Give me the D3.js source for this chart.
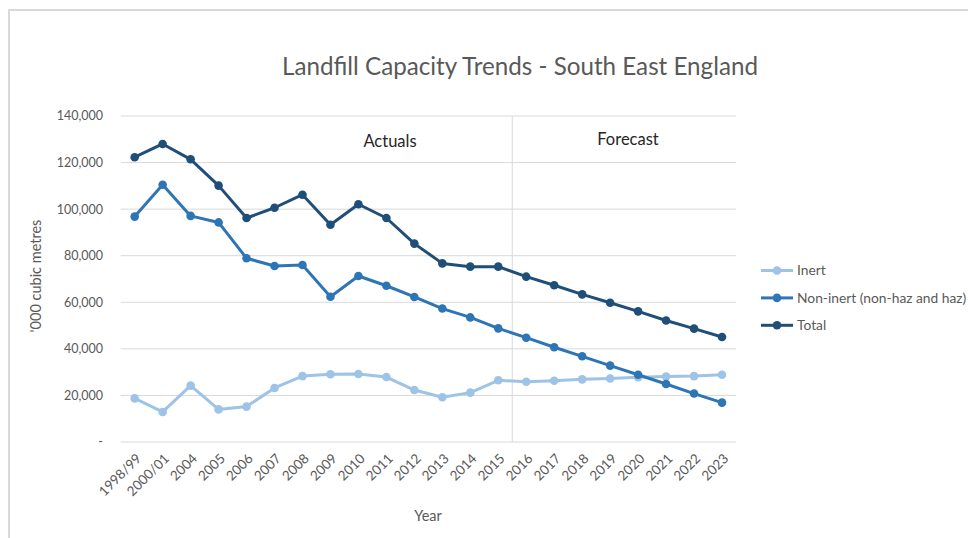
<!DOCTYPE html>
<html>
<head>
<meta charset="utf-8">
<script src="https://cdn.jsdelivr.net/npm/d3@7"></script>
<style>
  html, body { margin: 0; padding: 0; background: #fff; }
  svg { display: block; font-family: Lato, "Open Sans", sans-serif; }
</style>
</head>
<body>
<svg id="chart" width="968" height="538"></svg>
<script>
// Landfill capacity by year, '000 cubic metres
const years = ["1998/99", "2000/01", "2004", "2005", "2006", "2007", "2008", "2009", "2010", "2011", "2012",
  "2013", "2014", "2015", "2016", "2017", "2018", "2019", "2020", "2021", "2022", "2023"];
const inert = [18750, 12900, 24200, 14000, 15200, 23200, 28300, 29100, 29200, 27900, 22300,
  19200, 21200, 26500, 25900, 26300, 26900, 27300, 27800, 28100, 28300, 28900];
const nonInert = [96800, 110500, 97100, 94300, 78900, 75600, 76000, 62400, 71300, 67100, 62300,
  57300, 53500, 48800, 44800, 40700, 36800, 32800, 28900, 24900, 20800, 16900];
const total = [122300, 128000, 121400, 110100, 96200, 100600, 106200, 93300, 102100, 96200, 85200,
  76700, 75300, 75300, 71000, 67300, 63400, 59800, 56100, 52200, 48700, 45100];
const yTicks = [0, 20000, 40000, 60000, 80000, 100000, 120000, 140000];
const lastActual = "2015";
const firstForecast = "2016";

const seriesList = [
  { name: "Inert", values: inert, color: "#9dc3e6" },
  { name: "Non-inert (non-haz and haz)", values: nonInert, color: "#2e75b6" },
  { name: "Total", values: total, color: "#1f4e79" }
];

const svg = d3.select("#chart");
const textColor = "#595959";
const gridColor = "#d9d9d9";

// outer frame (top and left edges)
svg.append("path")
  .attr("d", "M9,538 V10 H968")
  .attr("fill", "none")
  .attr("stroke", "#d9d9d9")
  .attr("stroke-width", 2);

const plot = { left: 120.7, right: 736, top: 116, bottom: 442 };

const x = d3.scaleBand().domain(years).range([plot.left, plot.right]);
const y = d3.scaleLinear().domain([0, 140000]).range([plot.bottom, plot.top]);
const cx = d => x(d) + x.bandwidth() / 2;

// horizontal gridlines
svg.append("g").selectAll("line").data(yTicks).join("line")
  .attr("x1", plot.left).attr("x2", plot.right)
  .attr("y1", d => y(d)).attr("y2", d => y(d))
  .attr("stroke", gridColor).attr("stroke-width", 1);

// y axis labels
const fmt = d3.format(",");
svg.append("g").selectAll("text").data(yTicks).join("text")
  .attr("x", 103).attr("y", d => y(d))
  .attr("dy", "0.35em")
  .attr("text-anchor", "end")
  .attr("fill", textColor)
  .style("font-size", "12.5px")
  .text(d => d === 0 ? "-" : fmt(d));

// divider between actuals and forecast
const divX = (x(lastActual) + x(firstForecast) + x.bandwidth()) / 2;
svg.append("line")
  .attr("x1", divX).attr("x2", divX)
  .attr("y1", plot.top).attr("y2", plot.bottom)
  .attr("stroke", gridColor).attr("stroke-width", 1);

// x axis labels, rotated
svg.append("g").selectAll("text").data(years).join("text")
  .attr("transform", d => `translate(${cx(d) + 4},${plot.bottom + 14}) rotate(-45)`)
  .attr("text-anchor", "end")
  .attr("dy", "0.35em")
  .attr("fill", textColor)
  .style("font-size", "13.5px")
  .text(d => d);

// series lines and markers
const line = d3.line().x((d, i) => cx(years[i])).y(d => y(d));
seriesList.forEach(s => {
  const g = svg.append("g");
  g.append("path")
    .attr("d", line(s.values))
    .attr("fill", "none")
    .attr("stroke", s.color)
    .attr("stroke-width", 3)
    .attr("stroke-linejoin", "round")
    .attr("stroke-linecap", "round");
  g.selectAll("circle").data(s.values).join("circle")
    .attr("cx", (d, i) => cx(years[i]))
    .attr("cy", d => y(d))
    .attr("r", 4.3)
    .attr("fill", s.color);
});

// section labels
svg.append("text").attr("x", 390).attr("y", 141).attr("dy", "0.35em")
  .attr("text-anchor", "middle").attr("fill", "#262626")
  .style("font-size", "16.5px").text("Actuals");
svg.append("text").attr("x", 628).attr("y", 139).attr("dy", "0.35em")
  .attr("text-anchor", "middle").attr("fill", "#262626")
  .style("font-size", "16.5px").text("Forecast");

// title
svg.append("text").attr("x", 520).attr("y", 67).attr("dy", "0.35em")
  .attr("text-anchor", "middle").attr("fill", textColor)
  .style("font-size", "24.2px").text("Landfill Capacity Trends - South East England");

// axis titles
svg.append("text").attr("x", 428).attr("y", 516).attr("dy", "0.35em")
  .attr("text-anchor", "middle").attr("fill", textColor)
  .style("font-size", "14.5px").text("Year");
svg.append("text")
  .attr("transform", "translate(36,276) rotate(-90)")
  .attr("dy", "0.35em")
  .attr("text-anchor", "middle").attr("fill", textColor)
  .style("font-size", "14.5px").text("'000 cubic metres");

// legend
const legend = svg.append("g");
seriesList.forEach((s, i) => {
  const ly = 270.5 + i * 27.4;
  legend.append("line")
    .attr("x1", 761).attr("x2", 793).attr("y1", ly).attr("y2", ly)
    .attr("stroke", s.color).attr("stroke-width", 3);
  legend.append("circle").attr("cx", 777).attr("cy", ly).attr("r", 4.3).attr("fill", s.color);
  legend.append("text").attr("x", 797).attr("y", ly).attr("dy", "0.35em")
    .attr("fill", textColor).style("font-size", "13.8px").text(s.name);
});
</script>
</body>
</html>
